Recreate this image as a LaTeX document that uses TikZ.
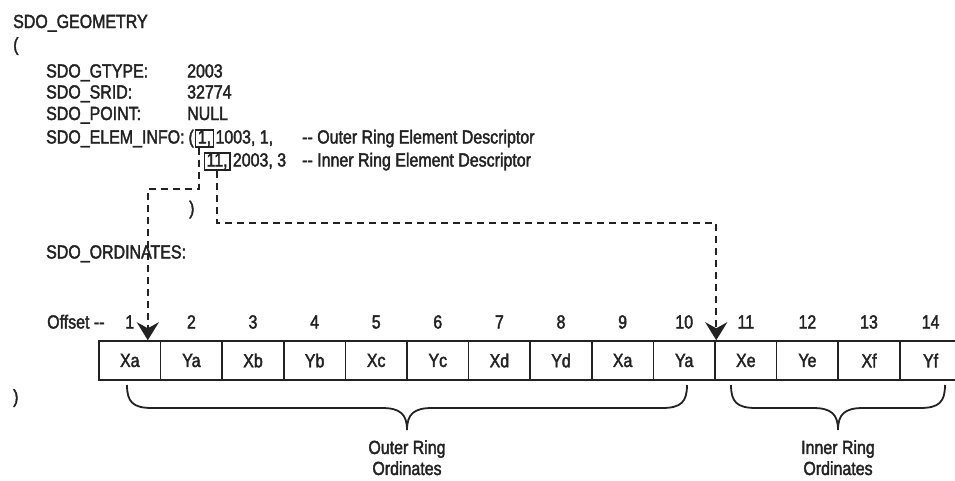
\documentclass[tikz,border=0pt]{standalone}
\usepackage{fontspec}
\setmainfont{Liberation Sans}[FakeStretch=0.84,FakeBold=2]
\usetikzlibrary{arrows.meta,positioning}
\definecolor{ink}{HTML}{222222}

\begin{document}
\begin{tikzpicture}[
  x=1pt, y=-1pt,
  every node/.style={font=\fontsize{19}{21}\selectfont, text=ink, inner sep=0pt},
  txt/.style={anchor=base west},
  markbox/.style={draw=ink, line width=1.4pt, inner xsep=2.4pt, text height=13.5pt, text depth=3.5pt, anchor=base west},
  cellbox/.style={draw=ink, line width=1.5pt, minimum width=61.6pt, minimum height=39pt},
  offnum/.style={anchor=base},
  dashlink/.style={draw=ink, line width=2.4pt, dash pattern=on 7pt off 5pt, -{Stealth[length=18pt,width=22pt,inset=6pt]}},
  ringbrace/.style={draw=ink, line width=1.8pt},
  ringlabel/.style={align=center, anchor=north}
]
  \useasboundingbox (0,0) rectangle (955,480);

  % the geometry object
  \node[txt] (geom) at (13,28) {SDO\_GEOMETRY};
  \node[txt] (openp) at (13,51) {(};
  \node[txt] (gtype) at (46,77.5) {SDO\_GTYPE:};
  \node[txt] (srid) at (46,98.5) {SDO\_SRID:};
  \node[txt] (point) at (46,120) {SDO\_POINT:};
  \node[txt] (elem) at (46,143.5) {SDO\_ELEM\_INFO:};
  \node[txt] (gtypeval) at (187,77.5) {2003};
  \node[txt] (sridval) at (187,98.5) {32774};
  \node[txt] (pointval) at (187,120) {NULL};

  % element info triplets
  \node[txt, right=3.5pt of elem.base east, anchor=base west] (elemparen) {(};
  \node[markbox, right=0.8pt of elemparen.base east, anchor=base west] (onebox) {1,};
  \node[txt, right=1pt of onebox.base east, anchor=base west] (outertrip) {1003, 1,};
  \node[txt] (outercmt) at (302,143.5) {-{}- Outer Ring Element Descriptor};
  \node[markbox] (elevenbox) at (203.5,166.5) {11,};
  \node[txt, right=2pt of elevenbox.base east, anchor=base west] (innertrip) {2003, 3};
  \node[txt] (innercmt) at (302,166.5) {-{}- Inner Ring Element Descriptor};
  \node[txt] (elemclose) at (189,214.5) {)};

  \node[txt] (ords) at (46,258.5) {SDO\_ORDINATES:};
  \node[txt] (offset) at (47,328.5) {Offset -{}-};

  % ordinate array
  \begin{scope}
    \clip (0,0) rectangle (955,480);
    \foreach \lab [count=\i] in {Xa,Ya,Xb,Yb,Xc,Yc,Xd,Yd,Xa,Ya,Xe,Ye,Xf,Yf} {
      \node[cellbox] (cell\i) at ({99+61.6*(\i-0.5)},360.5) {\lab};
      \node[offnum] (off\i) at ({99+61.6*(\i-0.5)},328.5) {\i};
    }
  \end{scope}
  \node[txt] (closep) at (13,403) {)};

  % offsets into the array
  \draw[dashlink] ([xshift=4pt]onebox.south west) -- ++(0,41) -| ([xshift=18pt]cell1.north);
  \draw[dashlink] (elevenbox.south) -- ++(0,52) -| ([xshift=2pt]cell11.north west);

  % rings
  \draw[ringbrace] (127,385) .. controls (127,402) and (133,408) .. (152,408) -- (382,408)
    .. controls (400,408) and (407,414) .. (407,430) .. controls (407,414) and (414,408) .. (432,408)
    -- (662,408) .. controls (681,408) and (687,402) .. (687,385);
  \draw[ringbrace] (731,385) .. controls (731,402) and (737,408) .. (756,408) -- (813,408)
    .. controls (831,408) and (838,414) .. (838,430) .. controls (838,414) and (845,408) .. (863,408)
    -- (920,408) .. controls (939,408) and (945,402) .. (945,385);
  \node[ringlabel] (outerlbl) at (407,440) {Outer Ring\\Ordinates};
  \node[ringlabel] (innerlbl) at (838,440) {Inner Ring\\Ordinates};
\end{tikzpicture}
\end{document}
